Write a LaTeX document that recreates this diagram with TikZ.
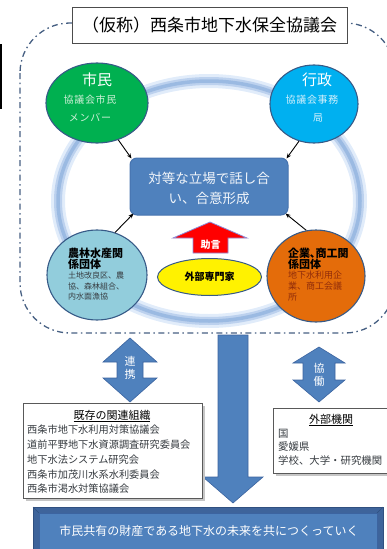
\documentclass[tikz,border=0pt]{standalone}
\usepackage{fontspec}
\setmainfont{Noto Sans CJK JP}
\usetikzlibrary{shapes.geometric,arrows.meta}
\definecolor{cgreen}{RGB}{0,176,80}
\definecolor{cblue}{RGB}{0,176,240}
\definecolor{clblue}{RGB}{146,205,220}
\definecolor{corange}{RGB}{228,108,10}
\definecolor{circborder}{RGB}{55,90,135}
\definecolor{cbox}{RGB}{79,129,189}
\definecolor{cboxdark}{RGB}{60,100,160}
\definecolor{boxborder}{RGB}{70,115,175}
\definecolor{ringa}{RGB}{225,236,250}
\definecolor{ringb}{RGB}{188,209,238}
\definecolor{ringc}{RGB}{155,186,226}
\definecolor{dashc}{RGB}{70,95,130}
\definecolor{greentxt}{RGB}{205,240,215}
\definecolor{bluetxt}{RGB}{210,240,252}
\definecolor{darktxt}{RGB}{55,60,65}
\definecolor{ktxt}{RGB}{145,45,10}
\definecolor{bannerout}{RGB}{62,100,155}
\newcommand\fsz[1]{\fontsize{#1}{#1}\selectfont}
\tikzset{
  circ/.style={ellipse, draw=circborder, line width=1.1pt, inner sep=0pt},
  txt/.style={inner sep=0pt},
  lefttxt/.style={inner sep=0pt, anchor=west},
  subw/.style={inner sep=0pt, font=\fsz{10}\addfontfeature{LetterSpace=7}},
  conn/.style={-{Stealth[length=5pt,width=4pt]}, line width=0.9pt, black},
  blockarrow/.style={fill=cbox, draw=cboxdark, line width=0.6pt},
  infobox/.style={draw=gray!70!black, fill=white, line width=0.6pt},
  shadowbox/.style={fill=gray!45},
}
\begin{document}
\begin{tikzpicture}[x=1pt,y=-1pt]
\useasboundingbox (0,0) rectangle (386,549);
% left black bar
\fill[black] (0,44) rectangle (2,109);
% ring
\draw[line width=14pt, ringa] (209,201) ellipse [x radius=151, y radius=120];
\draw[line width=8pt, ringb] (209,201) ellipse [x radius=151, y radius=120];
\draw[line width=3.5pt, ringc] (209,201) ellipse [x radius=151, y radius=120];
% dash-dot border
\draw[dashc, line width=1.3pt, rounded corners=50pt, dash pattern=on 6pt off 3.5pt on 1.5pt off 3.5pt] (20,23) rectangle (395,333);
% title
\node[draw=gray!60!black, fill=white, line width=0.7pt, minimum width=275pt, minimum height=36pt, inner sep=0pt, font=\fsz{17}] (title) at (209.5,25) {（仮称）西条市地下水保全協議会};
% circles
\node[circ, fill=cgreen, minimum width=102pt, minimum height=80pt] (shimin) at (97,103) {};
\node[circ, fill=cblue, minimum width=88pt, minimum height=78pt] (gyosei) at (314,104) {};
\node[circ, fill=clblue, minimum width=100pt, minimum height=90pt] (nourin) at (97,275) {};
\node[circ, fill=corange, minimum width=98pt, minimum height=92pt] (kigyo) at (316,276) {};
% centre box
\node[draw=boxborder, fill=cbox, rounded corners=7pt, minimum width=158pt, minimum height=57pt, line width=1pt, inner sep=0pt] (box) at (209,186.5) {};
\node[txt, text=white!92!cbox, font=\fsz{13.5}] (box1) at (209,178) {対等な立場で話し合};
\node[txt, text=white!92!cbox, font=\fsz{13.5}] (box2) at (209,198) {い、合意形成};
% connectors
\draw[conn] (shimin.-60) -- ([xshift=2pt,yshift=-1pt]box.north west);
\draw[conn] (gyosei.-112) -- ([xshift=-2pt,yshift=-1pt]box.north east);
\draw[conn] (nourin.67) -- ([xshift=4pt,yshift=2pt]box.south west);
\draw[conn] (kigyo.102) -- ([xshift=-3pt,yshift=2pt]box.south east);
% texts in circles
\node[txt, text=white, font=\fsz{15}] (shimint) at (97,80) {市民};
\node[subw, text=greentxt] (shimins1) at (90,100) {協議会市民};
\node[subw, text=greentxt] (shimins2) at (90,118) {メンバー};
\node[txt, text=white, font=\fsz{15}] (gyoseit) at (317,80) {行政};
\node[subw, text=bluetxt] (gyoseis1) at (312,100) {協議会事務};
\node[subw, text=bluetxt] (gyoseis2) at (318,118) {局};
\node[lefttxt, font=\fsz{11}\bfseries] (nourin1) at (68,253) {農林水産関};
\node[lefttxt, font=\fsz{11}\bfseries] (nourin2) at (68,264) {係団体};
\node[lefttxt, font=\fsz{8}, text=darktxt] (nourin3) at (68,275.5) {土地改良区、農};
\node[lefttxt, font=\fsz{8}, text=darktxt] (nourin4) at (68,286) {協、森林組合、};
\node[lefttxt, font=\fsz{8}, text=darktxt] (nourin5) at (68,296.5) {内水面漁協};
\node[lefttxt, font=\fsz{11}\bfseries] (kigyo1) at (288,253) {企業､商工関};
\node[lefttxt, font=\fsz{11}\bfseries] (kigyo2) at (288,264) {係団体};
\node[lefttxt, font=\fsz{9}, text=ktxt] (kigyo3) at (288,275) {地下水利用企};
\node[lefttxt, font=\fsz{9}, text=ktxt] (kigyo4) at (288,286) {業、商工会議};
\node[lefttxt, font=\fsz{9}, text=ktxt] (kigyo5) at (288,297) {所};
% red advice arrow
\draw[fill=red, draw=gray!50!blue!60, line width=0.8pt] (210,222) -- (247,238) -- (228,238) -- (228,253) -- (193,253) -- (193,238) -- (173,238) -- cycle;
\node[txt, text=white, font=\fsz{10}\bfseries] (jogen) at (210.5,245) {助言};
% expert ellipse
\node[ellipse, draw=circborder, fill=yellow, line width=1pt, minimum width=104pt, minimum height=37pt, inner sep=0pt, font=\fsz{10}\bfseries] (gaibu) at (209.5,277) {外部専門家};
% double arrows
\draw[blockarrow] (130,338) -- (157,362) -- (143,362) -- (143,378) -- (157,378) -- (130,402) -- (103,378) -- (117,378) -- (117,362) -- (103,362) -- cycle;
\node[txt, text=white, font=\fsz{11}] (ren) at (130,361) {連};
\node[txt, text=white, font=\fsz{11}] (kei) at (130,374) {携};
\draw[blockarrow] (319,347) -- (345,363) -- (335,363) -- (335,380) -- (345,380) -- (319,402) -- (293,380) -- (303,380) -- (303,363) -- (293,363) -- cycle;
\node[txt, text=white, font=\fsz{11}] (kyo) at (319,368) {協};
\node[txt, text=white, font=\fsz{11}] (dou) at (319,381) {働};
% big down arrow
\draw[blockarrow] (218,335) -- (248,335) -- (248,477) -- (263,477) -- (233,503) -- (203,477) -- (218,477) -- cycle;
% existing organisations box
\fill[shadowbox] (26,406) rectangle (205,501);
\draw[infobox] (23,403) rectangle (202,498);
\node[txt, font=\fsz{11}] (kizon) at (112,416) {\underline{既存の関連組織}};
\node[lefttxt, font=\fsz{10.2}, text=darktxt] (k1) at (27,429.5) {西条市地下水利用対策協議会};
\node[lefttxt, font=\fsz{10.2}, text=darktxt] (k2) at (27,445) {道前平野地下水資源調査研究委員会};
\node[lefttxt, font=\fsz{10.2}, text=darktxt] (k3) at (27,460) {地下水法システム研究会};
\node[lefttxt, font=\fsz{10.2}, text=darktxt] (k4) at (27,474.5) {西条市加茂川水系水利委員会};
\node[lefttxt, font=\fsz{10.2}, text=darktxt] (k5) at (27,489) {西条市渇水対策協議会};
% external organisations box
\fill[shadowbox] (276,411) rectangle (395,476);
\draw[infobox] (273,408) rectangle (392,473);
\node[txt, font=\fsz{11}] (gaibukikan) at (331,420) {\underline{外部機関}};
\node[lefttxt, font=\fsz{10.4}, text=darktxt] (g1) at (278,433.5) {国};
\node[lefttxt, font=\fsz{10.4}, text=darktxt] (g2) at (278,447) {愛媛県};
\node[lefttxt, font=\fsz{10.4}, text=darktxt] (g3) at (278,461) {学校、大学・研究機関};
% banner
\draw[fill=bannerout, draw=cboxdark!80!black, line width=0.6pt] (33,507) rectangle (383,560);
\draw[fill=cbox, draw=cboxdark, line width=0.5pt] (39,513) rectangle (377,560);
\draw[cboxdark!80!black, line width=0.5pt] (33,507) -- (39,513) (383,507) -- (377,513);
\node[txt, text=white, font=\fsz{12}] (banner) at (209,531) {市民共有の財産である地下水の未来を共につくっていく};
\end{tikzpicture}
\end{document}
